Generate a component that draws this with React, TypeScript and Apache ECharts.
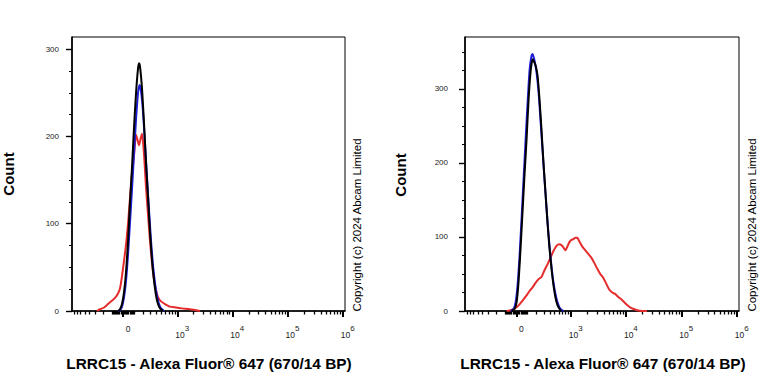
import { useEffect, useRef } from 'react';
import * as echarts from 'echarts';

const FONT = '"Liberation Sans", Arial, Helvetica, sans-serif';

// Biexponential (logicle-like) display scale: axis units ~ decades
const BIEX_C = Math.pow(10, 2.024);
const biex = (v: number) => Math.asinh(v / (2 * BIEX_C)) / Math.LN10 + Math.log10(BIEX_C);

const X_MIN = 1.1;
const X_MAX = 6.04;

// x tick labels (raw intensity -> label)
const majorTickValues = [0, 1e3, 1e4, 1e5, 1e6];
const majorTickExponents = [null, 3, 4, 5, 6];
const minorTickMultipliers = [1, 2, 3, 4, 5, 6, 7, 8, 9];
const minorTickDecades = [-100, -10, 10, 100, 1e3, 1e4, 1e5];

const yLabelValues = [0, 100, 200, 300];
const yMinorValues = [25, 50, 75, 125, 150, 175, 225, 250, 275, 325, 350];

const Y_MAX_LEFT = 314;
const Y_MAX_RIGHT = 370;

const xTitle = 'LRRC15 - Alexa Fluor® 647 (670/14 BP)';
const yTitle = 'Count';
const copyright = 'Copyright (c) 2024 Abcam Limited';

// Histogram data: [display position (decades on biex axis), count]
const leftBlack = [
  [1.933, 0], [1.969, 2], [2.005, 8], [2.042, 22], [2.078, 45], [2.114, 80], [2.15, 125], [2.186, 165],
  [2.222, 210], [2.259, 250], [2.295, 278], [2.313, 284], [2.331, 280], [2.367, 255], [2.403, 215],
  [2.439, 170], [2.476, 130], [2.512, 90], [2.548, 58], [2.584, 35], [2.62, 18], [2.656, 8], [2.693, 3], [2.747, 0],
];
const leftBlue = [
  [1.933, 0], [1.969, 1], [2.005, 5], [2.042, 16], [2.078, 35], [2.114, 65], [2.15, 102], [2.186, 140],
  [2.222, 180], [2.259, 220], [2.295, 250], [2.322, 259], [2.349, 252], [2.385, 228], [2.421, 192],
  [2.458, 152], [2.494, 115], [2.53, 80], [2.566, 52], [2.602, 32], [2.638, 17], [2.675, 8], [2.711, 3], [2.765, 0],
];
const leftRed = [
  [1.553, 0], [1.608, 2], [1.68, 4], [1.752, 8], [1.825, 12], [1.879, 15], [1.933, 20], [1.969, 26],
  [2.005, 40], [2.042, 58], [2.078, 76], [2.114, 100], [2.15, 130], [2.186, 158], [2.222, 178], [2.259, 202],
  [2.286, 196], [2.313, 190], [2.34, 197], [2.367, 203], [2.403, 180], [2.439, 142], [2.476, 110], [2.512, 80],
  [2.548, 55], [2.584, 36], [2.62, 24], [2.656, 16], [2.711, 11], [2.783, 8], [2.873, 5], [2.982, 4],
  [3.09, 3], [3.235, 2], [3.416, 0],
];

const rightBlack = [
  [1.941, 0], [1.995, 3], [2.031, 12], [2.066, 40], [2.102, 85], [2.138, 135], [2.174, 185], [2.21, 232],
  [2.246, 285], [2.282, 323], [2.318, 340], [2.336, 338], [2.372, 332], [2.408, 318], [2.444, 285],
  [2.479, 245], [2.515, 200], [2.551, 160], [2.587, 120], [2.623, 85], [2.659, 58], [2.695, 35],
  [2.731, 18], [2.767, 8], [2.803, 3], [2.838, 0],
];
const rightBlue = [
  [1.923, 0], [1.977, 3], [2.013, 12], [2.048, 35], [2.084, 75], [2.12, 125], [2.156, 178], [2.192, 230],
  [2.228, 280], [2.264, 325], [2.3, 345], [2.318, 347], [2.354, 338], [2.39, 322], [2.426, 296], [2.461, 258],
  [2.497, 218], [2.533, 178], [2.569, 140], [2.605, 104], [2.641, 74], [2.677, 48], [2.713, 30], [2.749, 17],
  [2.785, 8], [2.821, 3], [2.874, 0],
];
const rightRed = [
  [1.851, 0], [1.923, 1], [2.013, 4], [2.084, 9], [2.138, 14], [2.21, 21], [2.264, 27], [2.318, 32],
  [2.372, 38], [2.426, 43], [2.479, 46], [2.533, 55], [2.587, 63], [2.641, 72], [2.695, 81], [2.749, 88],
  [2.803, 90], [2.838, 89], [2.874, 86], [2.91, 82], [2.946, 87], [2.982, 93], [3.018, 96], [3.054, 97],
  [3.09, 99], [3.126, 99], [3.162, 94], [3.215, 87], [3.269, 82], [3.323, 77], [3.377, 72], [3.431, 65],
  [3.485, 57], [3.539, 50], [3.592, 45], [3.646, 37], [3.7, 29], [3.754, 25], [3.808, 23], [3.862, 19],
  [3.916, 16], [3.969, 12], [4.023, 8], [4.077, 5], [4.131, 3], [4.203, 1], [4.293, 0], [4.382, 0],
];

const RED = '#e52b2b';
const BLUE = '#1f1fd6';
const BLACK = '#000000';

export default function App() {
  const ref = useRef<HTMLDivElement>(null);

  useEffect(() => {
    if (!ref.current) return;
    const chart = echarts.init(ref.current, undefined, { renderer: 'svg' });

    const majorPos = majorTickValues.map(biex);
    const minorPos: number[] = [];
    minorTickDecades.forEach((d) => {
      minorTickMultipliers.forEach((m) => {
        if (Math.abs(d) >= 1e3 && m === 1) return;
        const p = biex(d * m);
        if (p > X_MIN && p < X_MAX) minorPos.push(p);
      });
    });

    const labelFor = (val: number) => {
      let best = 0;
      let bd = Infinity;
      majorPos.forEach((p, i) => {
        const dd = Math.abs(p - val);
        if (dd < bd) { bd = dd; best = i; }
      });
      const e = majorTickExponents[best];
      return e === null ? '{b|0}' : `{b|10}{s|${e}}`;
    };

    const grids = [
      { left: 72, top: 37, width: 273, height: 274 },
      { left: 465, top: 37, width: 274, height: 274 },
    ];
    const yMaxes = [Y_MAX_LEFT, Y_MAX_RIGHT];
    const yLabelMargins = [13, 17];

    const xAxes: any[] = [];
    const yAxes: any[] = [];
    grids.forEach((_, gi) => {
      xAxes.push({
        type: 'value', gridIndex: gi, min: X_MIN, max: X_MAX, position: 'bottom',
        axisLine: { show: true, lineStyle: { color: '#000', width: 1.6 } },
        axisTick: { show: true, customValues: majorPos, length: 6, lineStyle: { color: '#000', width: 2 } },
        axisLabel: {
          show: true, customValues: majorPos, margin: 13, formatter: labelFor,
          padding: [0, 0, 0, 10],
          rich: {
            b: { fontSize: 8.5, fontFamily: FONT, color: '#222', verticalAlign: 'bottom' },
            s: { fontSize: 8, fontFamily: FONT, color: '#222', padding: [0, 0, 7, 0], verticalAlign: 'bottom' },
          },
        },
        splitLine: { show: false },
      });
      xAxes.push({
        type: 'value', gridIndex: gi, min: X_MIN, max: X_MAX, position: 'bottom', offset: 0,
        axisLine: { show: false },
        axisTick: { show: true, customValues: minorPos, length: 3.5, lineStyle: { color: '#000', width: 1.3 } },
        axisLabel: { show: false },
        splitLine: { show: false },
      });
      const yMax = yMaxes[gi];
      yAxes.push({
        type: 'value', gridIndex: gi, min: 0, max: yMax, position: 'left',
        axisLine: { show: true, lineStyle: { color: '#000', width: 1.6 } },
        axisTick: { show: true, customValues: yLabelValues, length: 6, lineStyle: { color: '#000', width: 1.4 } },
        axisLabel: {
          show: true, customValues: yLabelValues, margin: yLabelMargins[gi],
          fontSize: 8, fontFamily: FONT, color: '#222',
        },
        splitLine: { show: false },
      });
      yAxes.push({
        type: 'value', gridIndex: gi, min: 0, max: yMax, position: 'left', offset: 0,
        axisLine: { show: false },
        axisTick: { show: true, customValues: yMinorValues.filter((v) => v < yMax), length: 3, lineStyle: { color: '#000', width: 1 } },
        axisLabel: { show: false },
        splitLine: { show: false },
      });
    });

    const mkSeries = (data: number[][], color: string, gi: number, z: number) => ({
      type: 'line', data, xAxisIndex: gi * 2, yAxisIndex: gi * 2, showSymbol: false, symbol: 'none',
      smooth: 0.2, z, lineStyle: { color, width: 2 }, silent: true, clip: true,
    });

    const textEl = (text: string, x: number, y: number, size: number, bold: boolean, rot: number) => ({
      type: 'text', x, y, rotation: rot,
      style: {
        text, fill: '#000', fontSize: size, fontWeight: bold ? 'bold' : 'normal', fontFamily: FONT,
        align: 'center', verticalAlign: 'middle',
      },
    });

    chart.setOption({
      animation: false,
      backgroundColor: '#fff',
      grid: grids.map((g) => ({ ...g, show: true, borderColor: '#000', borderWidth: 1, backgroundColor: 'transparent' })),
      xAxis: xAxes,
      yAxis: yAxes,
      series: [
        mkSeries(leftRed, RED, 0, 2),
        mkSeries(leftBlue, BLUE, 0, 3),
        mkSeries(leftBlack, BLACK, 0, 4),
        mkSeries(rightRed, RED, 1, 2),
        mkSeries(rightBlue, BLUE, 1, 3),
        mkSeries(rightBlack, BLACK, 1, 4),
      ],
      graphic: [
        textEl(yTitle, 8, 174, 15, true, Math.PI / 2),
        textEl(yTitle, 400, 175, 15, true, Math.PI / 2),
        textEl(xTitle, 209, 363, 15.4, true, 0),
        textEl(xTitle, 603, 363, 15.4, true, 0),
        textEl(copyright, 357, 225, 11.5, false, Math.PI / 2),
        textEl(copyright, 752, 225, 11.5, false, Math.PI / 2),
      ],
    });

    return () => chart.dispose();
  }, []);

  return <div ref={ref} style={{ position: 'absolute', left: 0, top: 0, width: 768, height: 384 }} />;
}
